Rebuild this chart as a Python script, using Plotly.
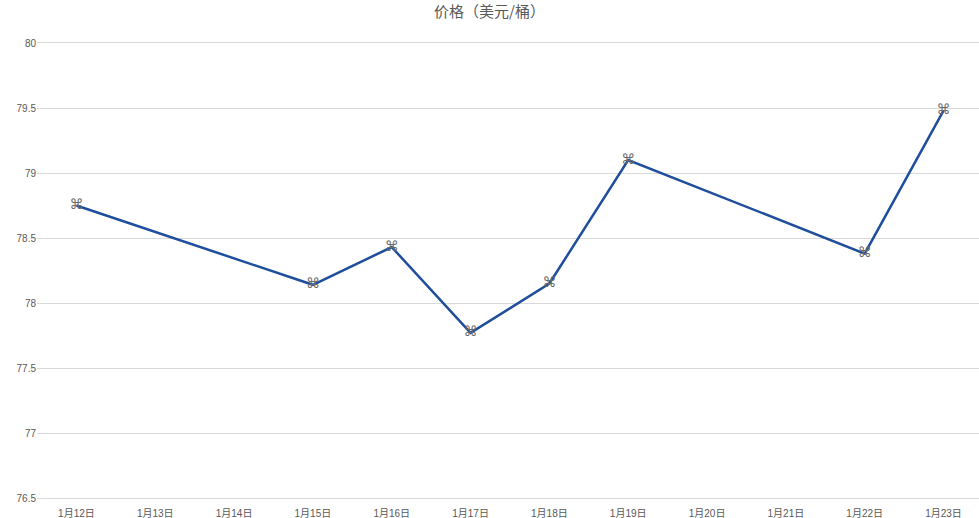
import plotly.graph_objects as go

categories = ["1月12日", "1月13日", "1月14日", "1月15日", "1月16日", "1月17日",
              "1月18日", "1月19日", "1月20日", "1月21日", "1月22日", "1月23日"]
dates = ["1月12日", "1月15日", "1月16日", "1月17日", "1月18日", "1月19日", "1月22日", "1月23日"]
prices = [78.75, 78.14, 78.43, 77.77, 78.15, 79.10, 78.38, 79.48]
y_ticks = [76.5, 77, 77.5, 78, 78.5, 79, 79.5, 80]
y_tick_labels = ["76.5", "77", "77.5", "78", "78.5", "79", "79.5", "80"]
title = "价格（美元/桶）"

fig = go.Figure()
fig.add_trace(go.Scatter(
    x=dates, y=prices, mode="lines+text",
    line=dict(color="#1f4e9c", width=2.5),
    text=["⌘"] * len(prices), textposition="middle center",
    textfont=dict(family="DejaVu Sans", size=14, color="#6a6a6a"),
    hoverinfo="x+y", showlegend=False,
))

fig.update_layout(
    width=979, height=518,
    margin=dict(l=37, r=0, t=43, b=20),
    paper_bgcolor="white", plot_bgcolor="white",
    title=dict(text=title, x=0.5, xanchor="center", y=0.977, yanchor="middle",
               font=dict(family="Noto Sans CJK SC", size=15, color="#595959")),
    font=dict(family="Liberation Sans, Noto Sans CJK SC", size=10, color="#595959"),
    xaxis=dict(type="category", categoryorder="array", categoryarray=categories,
               range=[-0.5, 11.45], showgrid=False, zeroline=False,
               showline=True, mirror=True, linecolor="#d9d9d9", linewidth=1,
               ticks="", ticklabelstandoff=6, automargin=False,
               tickfont=dict(size=10, color="#595959")),
    yaxis=dict(range=[76.5, 80], tickvals=y_ticks, ticktext=y_tick_labels,
               showgrid=True, gridcolor="#d9d9d9", gridwidth=1, zeroline=False,
               showline=False, ticks="", automargin=False,
               tickfont=dict(size=10, color="#595959")),
)

fig.write_html("out.html", config={"displayModeBar": False},
               post_script="document.body.style.margin='0';")
